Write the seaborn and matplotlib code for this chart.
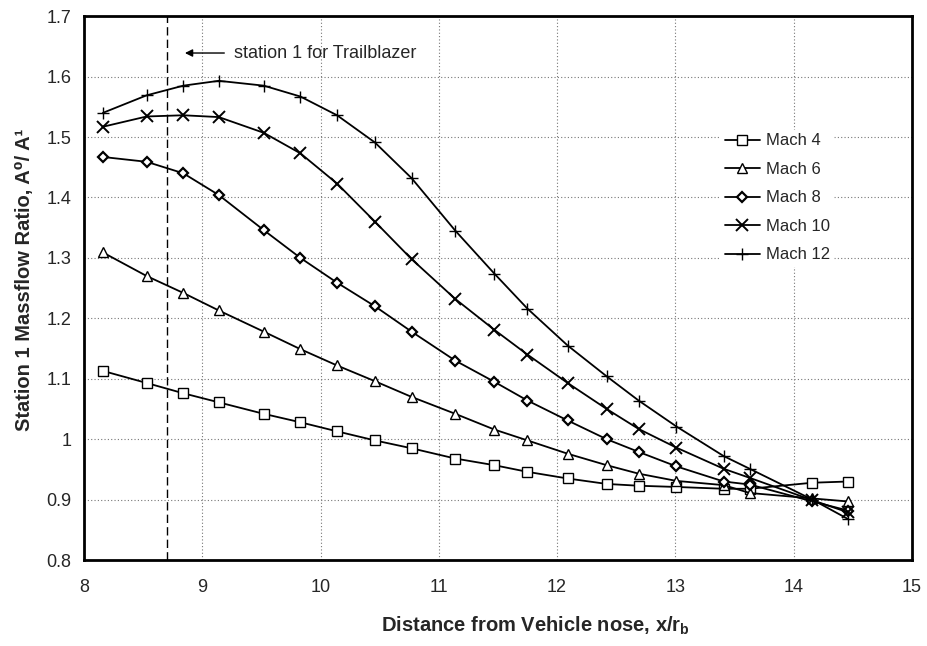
import pandas as pd
import matplotlib
matplotlib.use("Agg")
import matplotlib.pyplot as plt
import seaborn as sns

# -----------------------------
# Data
# -----------------------------
x_pos = [8.16, 8.53, 8.84, 9.14, 9.52, 9.83, 10.14, 10.46, 10.77, 11.14,
         11.47, 11.75, 12.09, 12.42, 12.69, 13.01, 13.41, 13.63, 14.16, 14.46]

mach4 = [1.113, 1.093, 1.076, 1.061, 1.042, 1.028, 1.013, 0.998, 0.985, 0.968,
         0.957, 0.946, 0.935, 0.926, 0.923, 0.921, 0.918, 0.918, 0.928, 0.930]
mach6 = [1.309, 1.270, 1.242, 1.213, 1.178, 1.149, 1.122, 1.096, 1.070, 1.042,
         1.016, 0.998, 0.976, 0.957, 0.943, 0.931, 0.924, 0.911, 0.902, 0.897]
mach8 = [1.467, 1.459, 1.440, 1.404, 1.346, 1.300, 1.259, 1.220, 1.178, 1.130,
         1.095, 1.064, 1.031, 1.000, 0.979, 0.955, 0.930, 0.925, 0.897, 0.882]
mach10 = [1.517, 1.534, 1.536, 1.533, 1.507, 1.473, 1.423, 1.360, 1.298, 1.232,
          1.181, 1.140, 1.093, 1.050, 1.017, 0.986, 0.951, 0.936, 0.899, 0.879]
mach12 = [1.540, 1.569, 1.585, 1.593, 1.585, 1.567, 1.536, 1.491, 1.432, 1.345,
          1.274, 1.216, 1.155, 1.104, 1.064, 1.021, 0.972, 0.951, 0.900, 0.868]

labels = ["Mach 4", "Mach 6", "Mach 8", "Mach 10", "Mach 12"]
series = [mach4, mach6, mach8, mach10, mach12]

station_x = 8.7

x_ticks = [8, 9, 10, 11, 12, 13, 14, 15]
y_ticks = [0.8, 0.9, 1.0, 1.1, 1.2, 1.3, 1.4, 1.5, 1.6, 1.7]
y_ticklabels = ["0.8", "0.9", "1", "1.1", "1.2", "1.3", "1.4", "1.5", "1.6", "1.7"]

# -----------------------------
# Style
# -----------------------------
sns.set_style("white")
plt.rcParams["font.family"] = ["Liberation Sans", "DejaVu Sans"]
plt.rcParams["mathtext.fontset"] = "custom"
plt.rcParams["mathtext.rm"] = "Liberation Sans"
plt.rcParams["mathtext.bf"] = "Liberation Sans:bold"

marker_styles = {
    "Mach 4": dict(marker="s", markersize=7.5, markerfacecolor="white", markeredgewidth=1.0),
    "Mach 6": dict(marker="^", markersize=7.5, markerfacecolor="white", markeredgewidth=1.0),
    "Mach 8": dict(marker="D", markersize=5.5, markerfacecolor="white", markeredgewidth=1.6),
    "Mach 10": dict(marker="x", markersize=8.5, markeredgewidth=1.4),
    "Mach 12": dict(marker="+", markersize=9, markeredgewidth=1.0),
}

fig = plt.figure(figsize=(9.27, 6.46), dpi=100)
ax = fig.add_axes([0.0906, 0.133, 0.893, 0.842])

for lab, vals in zip(labels, series):
    df = pd.DataFrame({"x": x_pos, "y": vals})
    sns.lineplot(data=df, x="x", y="y", ax=ax, color="black", linewidth=1.3,
                 label=lab, markeredgecolor="black", **marker_styles[lab])

# station 1 marker line and note
ax.axvline(station_x, color="black", linestyle=(0, (6, 3)), linewidth=1.0)
ax.annotate("", xy=(8.83, 1.639), xytext=(9.21, 1.639),
            arrowprops=dict(arrowstyle="-|>", color="black", lw=1.0,
                            mutation_scale=11))
ax.text(9.27, 1.639, "station 1 for Trailblazer", fontsize=13,
        va="center", ha="left")

# axes
ax.set_xlim(8, 15)
ax.set_ylim(0.8, 1.7)
ax.set_xticks(x_ticks)
ax.set_yticks(y_ticks)
ax.set_yticklabels(y_ticklabels)
ax.grid(True, color="#777777", linestyle=(0, (1, 2)), linewidth=0.8)
ax.tick_params(axis="both", labelsize=13, color="black", width=1.5)
ax.tick_params(axis="y", direction="out", length=5, pad=4)
ax.tick_params(axis="x", direction="inout", length=7, pad=10)
for side in ["left", "bottom", "top", "right"]:
    ax.spines[side].set_color("black")
    ax.spines[side].set_linewidth(2.0)

ax.set_xlabel(r"Distance from Vehicle nose, x/r$_{\mathbf{b}}$",
              fontsize=14.5, fontweight="bold")
ax.set_ylabel("Station 1 Massflow Ratio, A\u2070/ A\u00b9",
              fontsize=14.5, fontweight="bold")
ax.xaxis.set_label_coords(0.545, -0.1)
ax.yaxis.set_label_coords(-0.06, 0.515)

leg = ax.legend(loc="upper left", bbox_to_anchor=(0.76, 0.806), frameon=True,
                fontsize=12, handlelength=2.1, labelspacing=0.81,
                handletextpad=0.35, borderpad=0.2)
leg.get_frame().set_edgecolor("white")
leg.get_frame().set_facecolor("white")
leg.get_frame().set_alpha(1)

fig.savefig("out.png", dpi=100)
